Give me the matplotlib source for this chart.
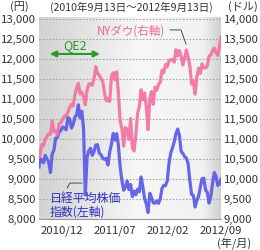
import numpy as np
import pandas as pd
import matplotlib
matplotlib.use('Agg')
import matplotlib.pyplot as plt
import matplotlib.dates as mdates
from matplotlib.colors import LinearSegmentedColormap
from matplotlib.ticker import FuncFormatter

plt.rcParams['font.family'] = ['Noto Sans CJK JP', 'DejaVu Sans']

# weekly closes, 2010/09/13 .. 2012/09/13
dates = ([pd.Timestamp('2010-09-13')]
         + list(pd.date_range('2010-09-17', '2012-09-07', freq='W-FRI'))
         + [pd.Timestamp('2012-09-13')])

nikkei = [9299,
          # 2010
          9510, 9471, 9404, 9589, 9500, 9426, 9160, 9625, 9725, 10022, 10039,
          10178, 10212, 10303, 10279, 10229,
          # 2011
          10541, 10499, 10274, 10360, 10543, 10605, 10857, 10527,
          10694, 10254, 8605, 9536, 9708, 9768, 9591, 9682, 9849,
          9859, 9648, 9607, 9521, 9492, 9514, 9351, 9678,
          9868, 10137, 9974, 10132, 9833, 9299, 8963, 8719, 8797,
          8950, 8737, 8864, 8560, 8700, 8605, 8747, 8678, 9050,
          8801, 8514, 8374, 8160, 8643, 8536, 8401, 8395, 8455,
          # 2012
          8390, 8500, 8766, 8841, 8831, 8947, 9384, 9647,
          9777, 9929, 10129, 10250, 10083, 9688, 9637, 9561, 9521,
          9381, 8953, 8611, 8593, 8300, 8459, 8569, 8798, 9007,
          9020, 8725, 8670, 8400, 8556, 8891, 9162, 9070, 8840,
          8871,
          8995]

nydow = [10544,
         # 2010
         10608, 10860, 10829, 11006, 11063, 11133, 11118, 11445, 11193, 11204, 11092,
         11382, 11410, 11492, 11573, 11578,
         # 2011
         11675, 11787, 11871, 11824, 12092, 12273, 12391, 12130,
         12170, 12044, 11859, 12221, 12376, 12380, 12342, 12505, 12811,
         12638, 12596, 12512, 12442, 12151, 11952, 12004, 11934,
         12582, 12657, 12480, 12681, 12143, 11444, 11269, 10818, 11285,
         11240, 10992, 11509, 10771, 10700, 11103, 11644, 11809, 12231,
         11983, 12153, 11796, 11231, 12019, 12184, 11866, 12294, 12218,
         # 2012
         12360, 12422, 12720, 12660, 12862, 12801, 12950, 12983,
         12978, 12922, 13233, 13081, 13212, 13060, 12850, 13029, 13228,
         13038, 12821, 12369, 12454, 12119, 12554, 12767, 12640, 12880,
         12772, 12777, 12822, 13075, 13096, 13207, 13275, 13158, 13090,
         13306,
         13540]

assert len(dates) == len(nikkei) == len(nydow)

xtick_dates = ['2010-12-14', '2011-07-14', '2012-02-12', '2012-09-12']
xtick_labels = ['2010/12', '2011/07', '2012/02', '2012/09']
left_ticks = list(range(8000, 13001, 500))
right_ticks = list(range(9000, 14001, 500))

pink = '#f2709f'
blue = '#5757ea'
green = '#2a9b2a'
txt = '#333333'

fig = plt.figure(figsize=(2.6, 2.5), dpi=100)
ax = fig.add_axes([39 / 260, 1 - 219 / 250, 182 / 260, 202 / 250])
ax2 = ax.twinx()

# background gradient
cmap = LinearSegmentedColormap.from_list(
    'bg', [(0, '#d2d2d2'), (0.55, '#f7f7f7'), (0.9, '#f2f2f2'), (1, '#cfcfcf')])
grad = np.linspace(0, 1, 256).reshape(1, -1)
ax.imshow(grad, cmap=cmap, extent=[0, 1, 0, 1], transform=ax.transAxes,
          aspect='auto', zorder=0)

ax.set_ylim(8000, 13050)
ax2.set_ylim(9000, 14050)
ax.set_xlim(pd.Timestamp('2010-09-13'), pd.Timestamp('2012-09-13'))

for v in left_ticks:
    ax.axhline(v, color='#a8a8a8', lw=0.8, ls=(0, (1.5, 1.5)), zorder=1)

ax2.plot(dates, nydow, color=pink, lw=2.3, alpha=0.9, zorder=3)
ax.plot(dates, nikkei, color=blue, lw=2.3, alpha=0.9, zorder=3)
ax2.set_zorder(ax.get_zorder() + 1)
ax2.patch.set_visible(False)

fmt = FuncFormatter(lambda v, p: '{:,.0f}'.format(v))
ax.set_yticks(left_ticks)
ax.yaxis.set_major_formatter(fmt)
ax2.set_yticks(right_ticks)
ax2.yaxis.set_major_formatter(fmt)
ax.set_xticks([pd.Timestamp(d) for d in xtick_dates])
ax.set_xticklabels(xtick_labels)

for a in (ax, ax2):
    a.tick_params(length=0, labelsize=8.2, colors=txt, pad=2)
    for s in a.spines.values():
        s.set_visible(False)
ax.tick_params(axis='x', pad=5)
ax2.spines['bottom'].set_visible(True)
ax2.spines['bottom'].set_color('#9a9a9a')

# header / footer texts
fig.text(19 / 260, 1 - 7 / 250, '(円)', ha='center', va='center', fontsize=8, color=txt)
fig.text(131 / 260, 1 - 7 / 250, '(2010年9月13日～2012年9月13日)', ha='center',
         va='center', fontsize=7.6, color=txt)
fig.text(243 / 260, 1 - 7 / 250, '(ドル)', ha='center', va='center', fontsize=8, color=txt)
fig.text(234 / 260, 1 - 243 / 250, '(年/月)', ha='center', va='center', fontsize=8, color=txt)

# annotations
ax.annotate('', xy=(0.06, 0.817), xytext=(0.335, 0.817), xycoords='axes fraction',
            arrowprops=dict(arrowstyle='<|-|>', color=green, lw=1.5,
                            mutation_scale=9, shrinkA=0, shrinkB=0), zorder=5)
ax.text(0.198, 0.861, 'QE2', transform=ax.transAxes, ha='center', va='center',
        fontsize=9, color=green, zorder=5)

ax2.text(0.319, 0.931, 'NYダウ(右軸)', transform=ax.transAxes, ha='left',
         va='center', fontsize=8.3, color='#f0679a', zorder=5)
ax2.plot([0.720, 0.780, 0.808], [0.936, 0.936, 0.866], transform=ax.transAxes,
         color='#333333', lw=0.6, zorder=5)

ax2.text(0.060, 0.069, '日経平均株価\n指数(左軸)', transform=ax.transAxes, ha='left',
         va='center', fontsize=8.6, color='#3030c0', linespacing=1.05, zorder=5)
ax2.plot([0.154, 0.170, 0.236], [0.153, 0.178, 0.178], transform=ax.transAxes,
         color='#333333', lw=0.6, zorder=5)

fig.savefig('out.png', dpi=100)
